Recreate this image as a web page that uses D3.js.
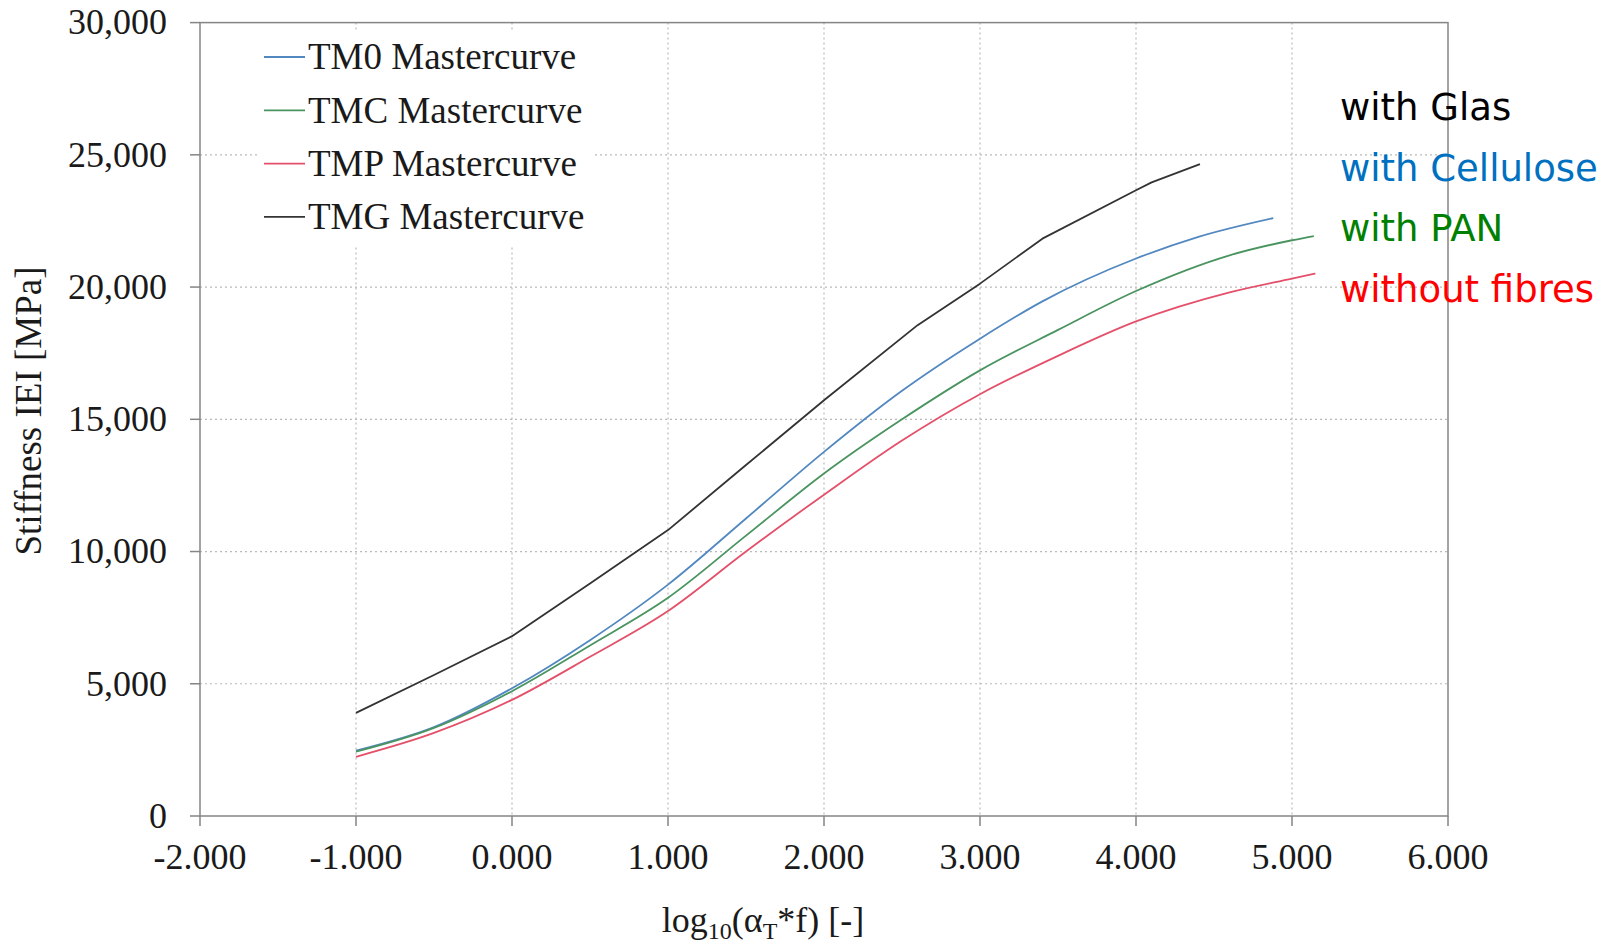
<!DOCTYPE html>
<html>
<head>
<meta charset="utf-8">
<script src="https://cdn.jsdelivr.net/npm/d3@7/dist/d3.min.js"></script>
<style>
  html, body { margin: 0; padding: 0; background: #fff; }
  svg { display: block; }
  .serif { font-family: "Liberation Serif", "Times New Roman", serif; fill: #1a1a1a; }
  .sans { font-family: "DejaVu Sans", Verdana, sans-serif; }
</style>
</head>
<body>
<svg id="chart" width="1610" height="943"></svg>
<script>
// ---- data ----
const seriesNames = ["TM0 Mastercurve", "TMC Mastercurve", "TMP Mastercurve", "TMG Mastercurve"];
const seriesColors = ["#5288c0", "#4a9460", "#e4506a", "#333333"];

const tm0X = [-1, -0.5, 0, 0.5, 1, 1.5, 2, 2.5, 3, 3.4, 4, 4.4, 4.88];
const tm0Y = [2470, 3360, 4830, 6650, 8750, 11250, 13770, 16080, 18050, 19460, 21080, 21900, 22610];

const tmcX = [-1, -0.5, 0, 0.5, 1, 1.5, 2, 2.5, 3, 3.5, 4, 4.6, 5, 5.14];
const tmcY = [2430, 3330, 4720, 6450, 8250, 10600, 12950, 15000, 16850, 18380, 19850, 21200, 21770, 21930];

const tmpX = [-1, -0.5, 0, 0.5, 1, 1.5, 2, 2.5, 3, 3.5, 4, 4.6, 5, 5.15];
const tmpY = [2240, 3140, 4390, 6020, 7750, 10000, 12150, 14200, 15950, 17400, 18700, 19800, 20320, 20510];

const tmgX = [-1, -0.5, 0, 0.5, 1, 1.5, 2, 2.6, 3, 3.4, 4, 4.1, 4.41];
const tmgY = [3900, 5330, 6800, 8790, 10810, 13270, 15720, 18560, 20130, 21830, 23660, 23960, 24650];

const xTicks = [-2, -1, 0, 1, 2, 3, 4, 5, 6];
const xTickLabels = ["-2.000", "-1.000", "0.000", "1.000", "2.000", "3.000", "4.000", "5.000", "6.000"];
const yTicks = [0, 5000, 10000, 15000, 20000, 25000, 30000];
const yTickLabels = ["0", "5,000", "10,000", "15,000", "20,000", "25,000", "30,000"];

const annotationTexts = ["with Glas", "with Cellulose", "with PAN", "without fibres"];
const annotationColors = ["#000000", "#0070c0", "#008000", "#ff0000"];

// ---- layout ----
const svg = d3.select("#chart");
const pLeft = 200, pRight = 1448, pTop = 22.6, pBottom = 816;
const x = d3.scaleLinear().domain([-2, 6]).range([pLeft, pRight]);
const y = d3.scaleLinear().domain([0, 30000]).range([pBottom, pTop]);

const frameColor = "#858585";
const gridColor = "#b9b9b9";

// grid
const grid = svg.append("g");
grid.selectAll("line.vx").data(xTicks.slice(1, -1)).join("line")
  .attr("x1", d => x(d)).attr("x2", d => x(d))
  .attr("y1", pTop).attr("y2", pBottom)
  .attr("stroke", gridColor).attr("stroke-width", 1.2).attr("stroke-dasharray", "2,3");
grid.selectAll("line.hy").data(yTicks.slice(1, -1)).join("line")
  .attr("x1", pLeft).attr("x2", pRight)
  .attr("y1", d => y(d)).attr("y2", d => y(d))
  .attr("stroke", gridColor).attr("stroke-width", 1.2).attr("stroke-dasharray", "2,3");

// frame
svg.append("rect").attr("x", pLeft).attr("y", pTop).attr("width", pRight - pLeft).attr("height", pBottom - pTop)
  .attr("fill", "none").attr("stroke", frameColor).attr("stroke-width", 1.5);

// ticks
svg.append("g").selectAll("line").data(yTicks).join("line")
  .attr("x1", pLeft - 10).attr("x2", pLeft).attr("y1", d => y(d)).attr("y2", d => y(d))
  .attr("stroke", frameColor).attr("stroke-width", 1.5);
svg.append("g").selectAll("line").data(xTicks).join("line")
  .attr("x1", d => x(d)).attr("x2", d => x(d)).attr("y1", pBottom).attr("y2", pBottom + 10)
  .attr("stroke", frameColor).attr("stroke-width", 1.5);

// tick labels
svg.append("g").selectAll("text").data(yTicks).join("text")
  .attr("class", "serif").attr("x", pLeft - 33).attr("y", d => y(d)).attr("dy", "0.33em")
  .attr("text-anchor", "end").attr("font-size", 36)
  .text((d, i) => yTickLabels[i]);
svg.append("g").selectAll("text").data(xTicks).join("text")
  .attr("class", "serif").attr("x", d => x(d)).attr("y", 869)
  .attr("text-anchor", "middle").attr("font-size", 36)
  .text((d, i) => xTickLabels[i]);

// axis titles
const xt = svg.append("text").attr("class", "serif").attr("x", 763).attr("y", 932)
  .attr("text-anchor", "middle").attr("font-size", 36);
xt.append("tspan").text("log");
xt.append("tspan").attr("font-size", 24).attr("dy", 7).text("10");
xt.append("tspan").attr("dy", -7).text("(α");
xt.append("tspan").attr("font-size", 24).attr("dy", 7).text("T");
xt.append("tspan").attr("dy", -7).text("*f) [-]");

svg.append("text").attr("class", "serif")
  .attr("transform", "translate(41,411) rotate(-90)")
  .attr("text-anchor", "middle").attr("font-size", 37)
  .text("Stiffness IEI [MPa]");

// lines
const allSeries = [
  { xs: tm0X, ys: tm0Y, curve: d3.curveMonotoneX },
  { xs: tmcX, ys: tmcY, curve: d3.curveMonotoneX },
  { xs: tmpX, ys: tmpY, curve: d3.curveMonotoneX },
  { xs: tmgX, ys: tmgY, curve: d3.curveLinear }
];
allSeries.forEach((s, i) => {
  const pts = s.xs.map((v, j) => [v, s.ys[j]]);
  const line = d3.line().x(d => x(d[0])).y(d => y(d[1])).curve(s.curve);
  svg.append("path").datum(pts).attr("d", line)
    .attr("fill", "none").attr("stroke", seriesColors[i]).attr("stroke-width", 1.8)
    .attr("stroke-linejoin", "round");
});

// legend
const leg = svg.append("g");
leg.append("rect").attr("x", 258).attr("y", 30).attr("width", 334).attr("height", 216).attr("fill", "#fff");
seriesNames.forEach((name, i) => {
  const yy = 57 + i * 53.3;
  leg.append("line").attr("x1", 264).attr("x2", 305).attr("y1", yy).attr("y2", yy)
    .attr("stroke", seriesColors[i]).attr("stroke-width", 1.8);
  leg.append("text").attr("class", "serif").attr("x", 308).attr("y", yy).attr("dy", "0.33em")
    .attr("font-size", 37).text(name);
});

// annotations
annotationTexts.forEach((t, i) => {
  svg.append("text").attr("class", "sans").attr("x", 1340).attr("y", 120 + i * 60.5)
    .attr("font-size", 37).attr("fill", annotationColors[i]).text(t);
});
</script>
</body>
</html>
